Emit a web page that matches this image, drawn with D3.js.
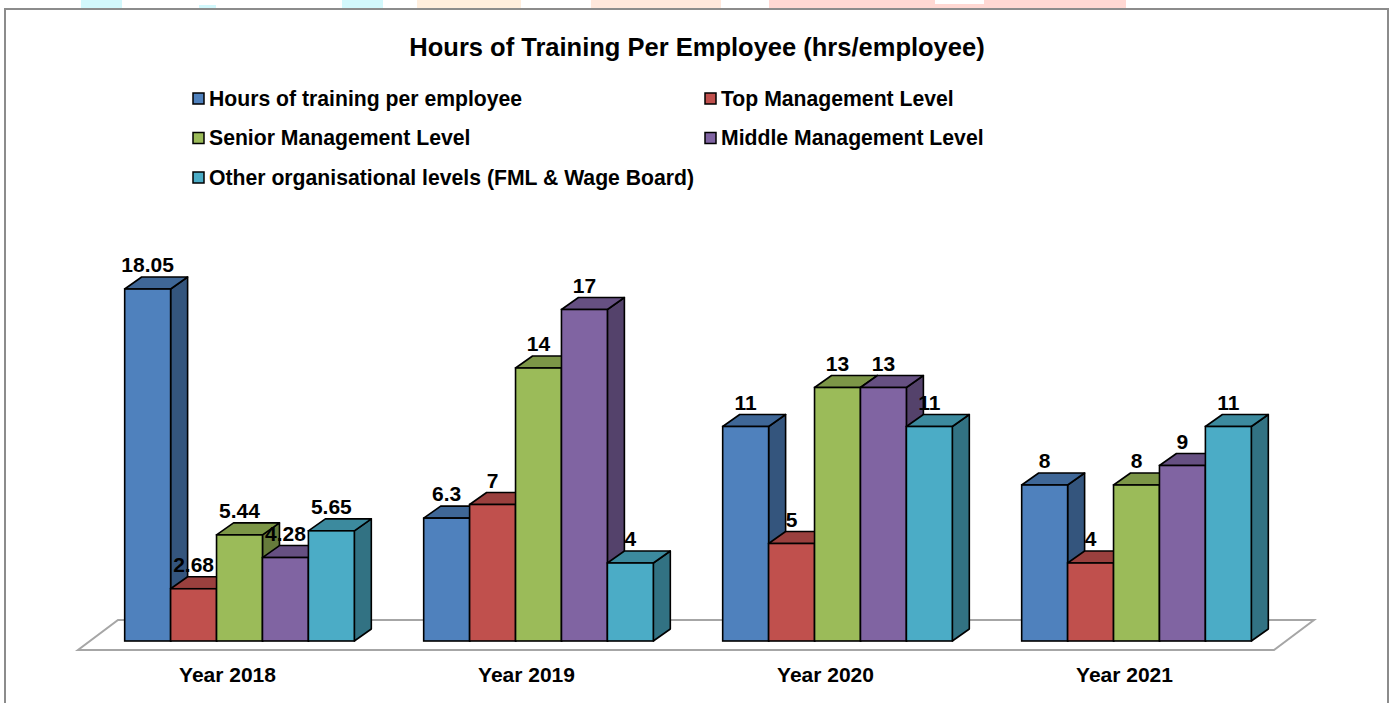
<!DOCTYPE html>
<html>
<head>
<meta charset="utf-8">
<script src="https://cdn.jsdelivr.net/npm/d3@7"></script>
<style>
  html, body { margin: 0; padding: 0; background: #fff; }
  svg { display: block; font-family: Arial, "Liberation Sans", sans-serif; }
</style>
</head>
<body>
<svg id="chart" width="1394" height="703"></svg>
<script>
// ---- data ----
const categories = ["Year 2018", "Year 2019", "Year 2020", "Year 2021"];
const seriesNames = [
  "Hours of training per employee",
  "Top Management Level",
  "Senior Management Level",
  "Middle Management Level",
  "Other organisational levels (FML & Wage Board)"
];
const hoursPerEmployee = [18.05, 6.3, 11, 8];
const topManagement    = [2.68, 7, 5, 4];
const seniorManagement = [5.44, 14, 13, 8];
const middleManagement = [4.28, 17, 13, 9];
const otherLevels      = [5.65, 4, 11, 11];
const seriesValues = [hoursPerEmployee, topManagement, seniorManagement, middleManagement, otherLevels];
const seriesColors = ["#4F81BD", "#C0504D", "#9BBB59", "#8064A2", "#4BACC6"];
const titleText = "Hours of Training Per Employee (hrs/employee)";

// ---- layout ----
const svg = d3.select("#chart");

// faint watermark remnants at the very top
const blobs = [
  [81, 0, 41, 8, "#d2f8fc"], [199, 5, 17, 3, "#d2f8fc"], [342, 0, 41, 8, "#d2f8fc"],
  [417, 0, 104, 8, "#ffeedd"], [591, 0, 130, 8, "#ffe8dc"], [769, 0, 357, 8, "#ffd8d3"]
];
svg.selectAll("rect.blob").data(blobs).join("rect").attr("class", "blob")
  .attr("x", d => d[0]).attr("y", d => d[1]).attr("width", d => d[2]).attr("height", d => d[3])
  .attr("fill", d => d[4]);
svg.append("rect").attr("x", 935).attr("y", 0).attr("width", 49).attr("height", 4).attr("fill", "#fff");

// frame
svg.append("rect").attr("x", 5).attr("y", 9).attr("width", 1383).attr("height", 720)
  .attr("fill", "#fff").attr("stroke", "#8c8c8c").attr("stroke-width", 2);

// title
svg.append("text").attr("x", 697).attr("y", 55.5).attr("text-anchor", "middle")
  .attr("font-size", 25.5).attr("font-weight", "bold").attr("fill", "#000").text(titleText);

// legend
const legendPos = [[193, 98.5], [705, 98.5], [193, 138], [705, 138], [193, 177.5]];
const lg = svg.append("g");
seriesNames.forEach((name, i) => {
  const [lx, ly] = legendPos[i];
  lg.append("rect").attr("x", lx).attr("y", ly - 5.5).attr("width", 11).attr("height", 11)
    .attr("fill", seriesColors[i]).attr("stroke", "#000").attr("stroke-width", 1.5);
  lg.append("text").attr("x", lx + 16).attr("y", ly + 7).attr("font-size", 21.2)
    .attr("font-weight", "bold").attr("fill", "#000").text(name);
});

// 3D geometry
const floorFrontY = 650, floorLeft = 78, floorRight = 1274;
const floorDepth = [40, -30];
const barOff = [12, -9];      // bars sit this far back on the floor
const barDepth = [17, -12];   // bar thickness in depth

const baseY = floorFrontY + barOff[1];
const x0 = d3.scaleBand().domain(categories)
  .range([floorLeft + barOff[0], floorLeft + barOff[0] + (floorRight - floorLeft)])
  .paddingInner(0.232).paddingOuter(0.116);
const x1 = d3.scaleBand().domain(seriesNames).range([0, x0.bandwidth()]);
const y = d3.scaleLinear().domain([0, 20]).range([baseY, baseY - 390]);

// floor
svg.append("polygon")
  .attr("points", [
    [floorLeft, floorFrontY], [floorRight, floorFrontY],
    [floorRight + floorDepth[0], floorFrontY + floorDepth[1]],
    [floorLeft + floorDepth[0], floorFrontY + floorDepth[1]]
  ].map(p => p.join(",")).join(" "))
  .attr("fill", "#fff").attr("stroke", "#a6a6a6").attr("stroke-width", 2);

function shade(c, k) {
  const r = d3.rgb(c);
  return d3.rgb(r.r * k, r.g * k, r.b * k).formatHex();
}

const bars = [];
categories.forEach((cat, ci) => {
  seriesNames.forEach((s, si) => {
    bars.push({cat, s, si, v: seriesValues[si][ci]});
  });
});

const barG = svg.append("g");
const dx = barDepth[0], dy = barDepth[1];
const bw = x1.bandwidth();
bars.forEach(b => {
  const xl = x0(b.cat) + x1(b.s), xr = xl + bw;
  const yt = y(b.v), yb = y(0);
  const g = barG.append("g");
  const col = seriesColors[b.si];
  // side
  g.append("polygon").attr("points", [[xr, yb], [xr + dx, yb + dy], [xr + dx, yt + dy], [xr, yt]].map(p => p.join(",")).join(" "))
    .attr("fill", shade(col, 0.66)).attr("stroke", "#000").attr("stroke-width", 1.6).attr("stroke-linejoin", "round");
  // top
  g.append("polygon").attr("points", [[xl, yt], [xr, yt], [xr + dx, yt + dy], [xl + dx, yt + dy]].map(p => p.join(",")).join(" "))
    .attr("fill", shade(col, 0.8)).attr("stroke", "#000").attr("stroke-width", 1.6).attr("stroke-linejoin", "round");
  // front
  g.append("rect").attr("x", xl).attr("y", yt).attr("width", bw).attr("height", yb - yt)
    .attr("fill", col).attr("stroke", "#000").attr("stroke-width", 1.6);
});

// value labels
svg.append("g").selectAll("text").data(bars).join("text")
  .attr("x", b => x0(b.cat) + x1(b.s) + bw / 2)
  .attr("y", b => y(b.v) + dy - 5)
  .attr("text-anchor", "middle").attr("font-size", 21).attr("font-weight", "bold").attr("fill", "#000")
  .text(b => String(b.v));

// category labels
svg.append("g").selectAll("text").data(categories).join("text")
  .attr("x", c => x0(c) + x0.bandwidth() / 2 - barOff[0])
  .attr("y", 682)
  .attr("text-anchor", "middle").attr("font-size", 21).attr("font-weight", "bold").attr("fill", "#000")
  .text(c => c);
</script>
</body>
</html>
